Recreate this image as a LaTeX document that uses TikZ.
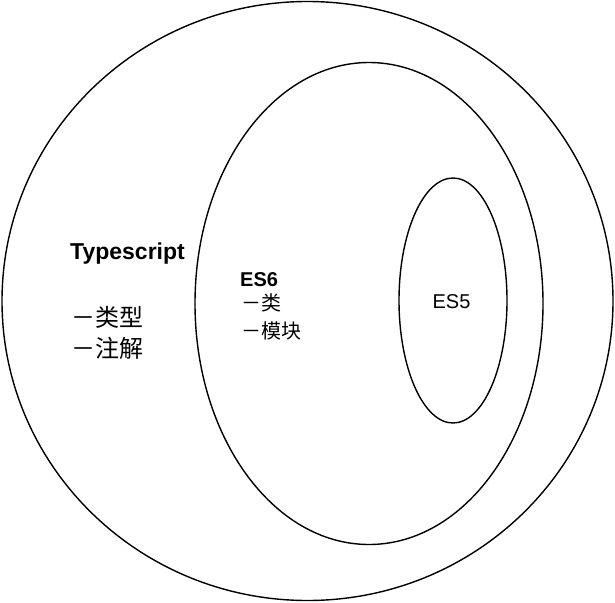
\documentclass[tikz,border=0pt]{standalone}
\usepackage{fontspec}
\setmainfont{Liberation Sans}
\newfontfamily\cjk{Noto Sans CJK SC}
\begin{document}
\begin{tikzpicture}[x=1pt,y=-1pt,
  ring/.style={draw=black,line width=1.4pt},
  lbl/.style={inner sep=0pt,anchor=base west},
  tsfont/.style={font=\fontsize{23}{27}\selectfont\bfseries},
  tscjk/.style={font=\fontsize{24}{28}\selectfont\cjk},
  esfont/.style={font=\fontsize{20}{24}\selectfont},
  escjk/.style={font=\fontsize{20}{24}\selectfont\cjk}]
\useasboundingbox (0,0) rectangle (615,602);
\draw[ring] (307.5,301) ellipse [x radius=305.5, y radius=299.5];
\draw[ring] (369,303.5) ellipse [x radius=174, y radius=241];
\draw[ring] (453,300.5) ellipse [x radius=54, y radius=122.5];
\node[lbl,tsfont] (ts) at (70,259) {Typescript};
\node[lbl,tscjk] (ts1) at (71,326) {－类型};
\node[lbl,tscjk] (ts2) at (71,357) {－注解};
\node[lbl,font=\fontsize{20}{24}\selectfont\bfseries] (es6) at (240,286) {ES6};
\node[lbl,escjk] (es61) at (241,310) {－类};
\node[lbl,escjk] (es62) at (241,338) {－模块};
\node[esfont,inner sep=0pt,anchor=base] (es5) at (451.5,308) {ES5};
\end{tikzpicture}
\end{document}
